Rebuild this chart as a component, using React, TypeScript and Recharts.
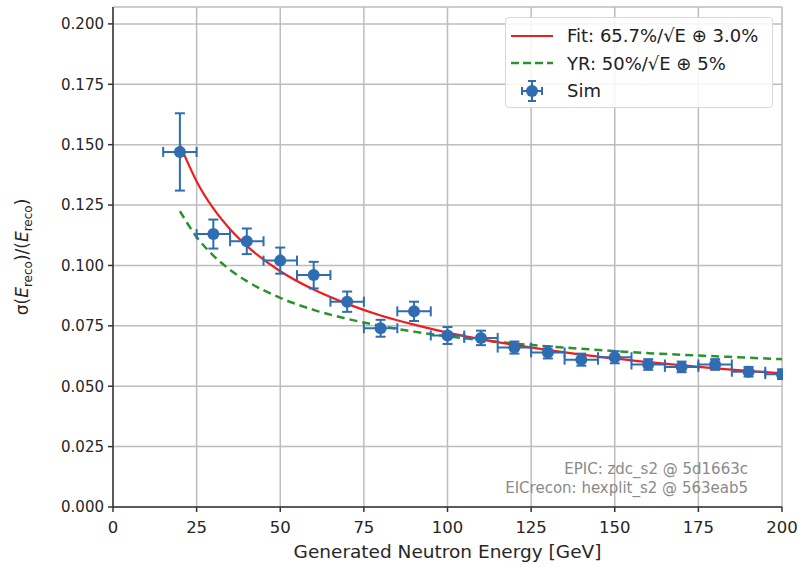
import React from "react";
import {
  CartesianGrid,
  ComposedChart,
  ErrorBar,
  Line,
  Scatter,
  XAxis,
  YAxis,
} from "recharts";

const energies = [20, 30, 40, 50, 60, 70, 80, 90, 100, 110, 120, 130, 140, 150, 160, 170, 180, 190, 200];
const sigmaRel = [0.147, 0.113, 0.11, 0.102, 0.096, 0.085, 0.074, 0.081, 0.071, 0.07, 0.066, 0.064, 0.061, 0.062, 0.059, 0.058, 0.059, 0.056, 0.055];
const sigmaErr = [0.016, 0.006, 0.0053, 0.0054, 0.0055, 0.0042, 0.0035, 0.004, 0.0035, 0.003, 0.0025, 0.0025, 0.0025, 0.0025, 0.0022, 0.0022, 0.0022, 0.002, 0.002];
const energyErr = [5, 5, 5, 5, 5, 5, 5, 5, 5, 5, 5, 5, 5, 5, 5, 5, 5, 5, 5];

// curves
const curveE = [20, 25, 30, 35, 40, 50, 60, 70, 80, 90, 100, 120, 140, 160, 180, 200];
const fitCurve = [0.15, 0.1348, 0.1236, 0.115, 0.1081, 0.0976, 0.09, 0.0841, 0.0793, 0.0755, 0.0722, 0.0671, 0.0631, 0.06, 0.0574, 0.0553];
const yrCurve = [0.1225, 0.1118, 0.1041, 0.0982, 0.0935, 0.0866, 0.0816, 0.0779, 0.075, 0.0726, 0.0707, 0.0677, 0.0655, 0.0637, 0.0624, 0.0612];

const xTicks = [0, 25, 50, 75, 100, 125, 150, 175, 200];
const yTicks = [0, 0.025, 0.05, 0.075, 0.1, 0.125, 0.15, 0.175, 0.2];

const FONT = "DejaVu Sans, sans-serif";
const BLUE = "#2f6cb2";
const RED = "#f01d1d";
const GREEN = "#2a942a";
const FRAME = "#333333";

const simData = energies.map((e, i) => ({ e, s: sigmaRel[i], sErr: sigmaErr[i], eErr: energyErr[i] }));
const fitData = curveE.map((e, i) => ({ e, v: fitCurve[i] }));
const yrData = curveE.map((e, i) => ({ e, v: yrCurve[i] }));

function Dot(props: any) {
  const { cx, cy } = props;
  if (cx == null || cy == null) return null;
  return <circle cx={cx} cy={cy} r={6} fill={BLUE} />;
}

function LegendBox() {
  const row: React.CSSProperties = { display: "flex", alignItems: "center", height: 27.5 };
  const txt: React.CSSProperties = { marginLeft: 14, fontSize: 18, color: "#222", fontFamily: FONT, whiteSpace: "nowrap" };
  return (
    <div
      style={{
        position: "absolute",
        left: 505,
        top: 17,
        width: 268,
        height: 91,
        boxSizing: "border-box",
        background: "rgba(255,255,255,0.85)",
        border: "1px solid #d8d8d8",
        borderRadius: 4,
        padding: "4px 6px 4px 5px",
      }}
    >
      <div style={row}>
        <svg width={42} height={10}>
          <line x1={0} x2={42} y1={5} y2={5} stroke={RED} strokeWidth={2.2} />
        </svg>
        <span style={txt}>Fit: 65.7%/√E ⊕ 3.0%</span>
      </div>
      <div style={row}>
        <svg width={42} height={10}>
          <line x1={0} x2={42} y1={5} y2={5} stroke={GREEN} strokeWidth={2.5} strokeDasharray="8 4" />
        </svg>
        <span style={txt}>YR: 50%/√E ⊕ 5%</span>
      </div>
      <div style={row}>
        <svg width={42} height={22}>
          <line x1={11} x2={31} y1={11} y2={11} stroke={BLUE} strokeWidth={2} />
          <line x1={21} x2={21} y1={1} y2={21} stroke={BLUE} strokeWidth={2} />
          <line x1={11} x2={11} y1={7} y2={15} stroke={BLUE} strokeWidth={2} />
          <line x1={31} x2={31} y1={7} y2={15} stroke={BLUE} strokeWidth={2} />
          <line x1={17} x2={25} y1={1} y2={1} stroke={BLUE} strokeWidth={2} />
          <line x1={17} x2={25} y1={21} y2={21} stroke={BLUE} strokeWidth={2} />
          <circle cx={21} cy={11} r={6} fill={BLUE} />
        </svg>
        <span style={txt}>Sim</span>
      </div>
    </div>
  );
}

export default function App() {
  const tick = { fontSize: 15, fill: "#262626", fontFamily: FONT };
  return (
    <div style={{ position: "absolute", left: 0, top: 0, width: 799, height: 567, background: "#fff" }}>
      <ComposedChart width={799} height={567} margin={{ top: 7, right: 17, bottom: 0, left: 0 }}>
        <CartesianGrid xAxisId="main" yAxisId="main" stroke="#bdbdbd" strokeWidth={1.5} />
        <XAxis
          xAxisId="main"
          type="number"
          dataKey="e"
          domain={[0, 200]}
          ticks={xTicks}
          allowDataOverflow
          height={60}
          tick={{ ...tick, fontSize: 16.5 }}
          tickSize={5}
          tickMargin={9}
          stroke={FRAME}
          strokeWidth={1.5}
          label={{ value: "Generated Neutron Energy [GeV]", position: "insideBottom", offset: 9, style: { fontSize: 18.5, fill: "#262626", fontFamily: FONT } }}
        />
        <XAxis xAxisId="top" orientation="top" type="number" domain={[0, 200]} height={0} tick={false} tickLine={false} stroke={FRAME} strokeWidth={1.5} />
        <YAxis
          yAxisId="main"
          type="number"
          domain={[0, 0.207]}
          ticks={yTicks}
          allowDataOverflow
          width={113}
          tick={tick}
          tickSize={5}
          tickMargin={4}
          tickFormatter={(v: number) => v.toFixed(3)}
          stroke={FRAME}
          strokeWidth={1.5}
          label={(props: any) => {
            const vb = props.viewBox || {};
            const cy = (vb.y ?? 7) + (vb.height ?? 500) / 2;
            return (
              <text
                transform={`translate(28, ${cy}) rotate(-90)`}
                textAnchor="middle"
                fontFamily={FONT}
                fontSize={17}
                fill="#262626"
              >
                σ(<tspan fontStyle="italic">E</tspan>
                <tspan fontSize={12} dy={4}>reco</tspan>
                <tspan dy={-4}>)/(</tspan>
                <tspan fontStyle="italic">E</tspan>
                <tspan fontSize={12} dy={4}>reco</tspan>
                <tspan dy={-4}>)</tspan>
              </text>
            );
          }}
        />
        <YAxis yAxisId="right" orientation="right" type="number" domain={[0, 0.207]} width={0} tick={false} tickLine={false} stroke={FRAME} strokeWidth={1.5} />
        <Line
          xAxisId="main"
          yAxisId="main"
          data={yrData}
          dataKey="v"
          type="monotone"
          stroke={GREEN}
          strokeWidth={2.5}
          strokeDasharray="8 5"
          dot={false}
          isAnimationActive={false}
        />
        <Line
          xAxisId="main"
          yAxisId="main"
          data={fitData}
          dataKey="v"
          type="monotone"
          stroke={RED}
          strokeWidth={2.2}
          dot={false}
          isAnimationActive={false}
        />
        <Scatter xAxisId="main" yAxisId="main" data={simData} dataKey="s" fill={BLUE} shape={<Dot />} isAnimationActive={false}>
          <ErrorBar dataKey="sErr" direction="y" width={5} stroke={BLUE} strokeWidth={2} />
          <ErrorBar dataKey="eErr" direction="x" width={5} stroke={BLUE} strokeWidth={2} />
        </Scatter>
      </ComposedChart>
      {/* mask anything spilling past the right frame */}
      <div style={{ position: "absolute", left: 783, top: 0, width: 16, height: 508, background: "#fff" }} />
      <LegendBox />
      <div
        style={{
          position: "absolute",
          right: 51,
          top: 460,
          textAlign: "right",
          fontFamily: FONT,
          fontSize: 15,
          color: "#8a8a8a",
          lineHeight: "19px",
        }}
      >
        <div>EPIC: zdc_s2 @ 5d1663c</div>
        <div>EICrecon: hexplit_s2 @ 563eab5</div>
      </div>
    </div>
  );
}
